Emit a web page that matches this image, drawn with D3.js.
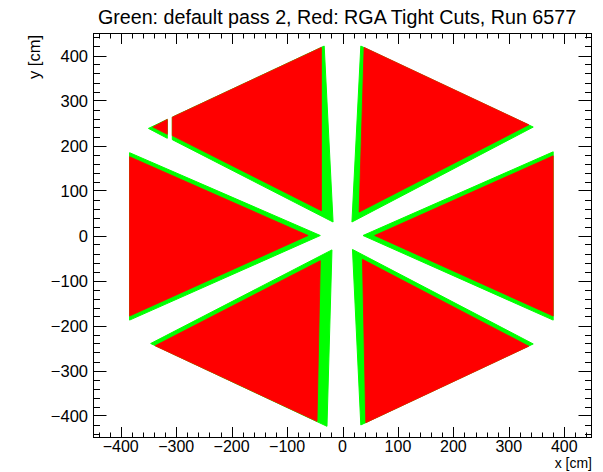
<!DOCTYPE html>
<html><head><meta charset="utf-8">
<script src="https://cdn.jsdelivr.net/npm/d3@7"></script>
<style>
body{margin:0;background:#fff}
svg{display:block}
text{font-family:"Liberation Sans",Arial,Helvetica,sans-serif;fill:#000}
</style>
</head><body>
<svg id="c" width="603" height="472"></svg>
<script>
// ---- text ----
const titleText = "Green: default pass 2, Red: RGA Tight Cuts, Run 6577";
const xAxisTitle = "x [cm]";
const yAxisTitle = "y [cm]";

// ---- axes ----
const xDomain = [-450, 450];
const yDomain = [-450, 450];
const xMajorTicks = [-400, -300, -200, -100, 0, 100, 200, 300, 400];
const yMajorTicks = [-400, -300, -200, -100, 0, 100, 200, 300, 400];
const minorTicks = [-440,-420,-380,-360,-340,-320,-280,-260,-240,-220,-180,-160,-140,-120,-80,-60,-40,-20,
                    20,40,60,80,120,140,160,180,220,240,260,280,320,340,360,380,420,440];

// ---- data: hit regions per sector, [x, y] in cm ----
// green = default pass 2
const greenSector1 = [[37,0],[380,186],[380,-188]];
const greenSector2 = [[17,30],[33,421],[344,241]];
const greenSector3a = [[-17,30],[-33,421],[-307,263],[-307,213]];
const greenSector3b = [[-316,258],[-350,238],[-316,216]];
const greenSector4 = [[-40,0],[-384,184],[-384,-188]];
const greenSector5 = [[-19,-32],[-28,-424],[-346,-240]];
const greenSector6 = [[18,-31],[33,-421],[344,-241]];
// red = RGA tight cuts
const redSector1 = [[58,0],[380,177],[380,-179]];
const redSector2 = [[30,52],[39,418],[336,246]];
const redSector3a = [[-38,55],[-38,418],[-307,263],[-307,222]];
const redSector3b = [[-316,258],[-342,241],[-316,225]];
const redSector4 = [[-62,0],[-384,175],[-384,-179]];
const redSector5 = [[-40,-56],[-46,-413],[-338,-245]];
const redSector6 = [[36,-53],[42,-416],[336,-246]];

const greenRegions = [greenSector1, greenSector2, greenSector3a, greenSector3b, greenSector4, greenSector5, greenSector6];
const redRegions = [redSector1, redSector2, redSector3a, redSector3b, redSector4, redSector5, redSector6];

// ---- layout ----
const L = 93, R = 592, T = 33, B = 438;
const svg = d3.select("#c");
const x = d3.scaleLinear().domain(xDomain).range([L, R]);
const y = d3.scaleLinear().domain(yDomain).range([B, T]);

svg.append("defs").append("clipPath").attr("id","frame")
  .append("rect").attr("x",L).attr("y",T).attr("width",R-L).attr("height",B-T);

const poly = d3.line().x(d => x(d[0])).y(d => y(d[1])).curve(d3.curveLinearClosed);
const plot = svg.append("g").attr("clip-path","url(#frame)");
plot.selectAll("path.g").data(greenRegions).join("path").attr("class","g")
  .attr("d", poly).attr("fill","#00ff00").attr("stroke","#00ff00").attr("stroke-width",1);
plot.selectAll("path.r").data(redRegions).join("path").attr("class","r")
  .attr("d", poly).attr("fill","#ff0000").attr("stroke","#ff0000").attr("stroke-width",0.8);

// frame
svg.append("rect").attr("x",L+0.5).attr("y",T+0.5).attr("width",R-L-1).attr("height",B-T-1)
  .attr("fill","none").attr("stroke","#000").attr("stroke-width",1);

const xMaj = 11, xMin = 5.5, yMaj = 13.5, yMin = 7;
const tk = svg.append("g").attr("stroke","#000").attr("stroke-width",1);
xMajorTicks.forEach(v => {
  const px = Math.round(x(v)) + 0.5;
  tk.append("line").attr("x1",px).attr("x2",px).attr("y1",B).attr("y2",B-xMaj);
  tk.append("line").attr("x1",px).attr("x2",px).attr("y1",T).attr("y2",T+xMaj);
});
minorTicks.forEach(v => {
  const px = Math.round(x(v)) + 0.5;
  tk.append("line").attr("x1",px).attr("x2",px).attr("y1",B).attr("y2",B-xMin);
  tk.append("line").attr("x1",px).attr("x2",px).attr("y1",T).attr("y2",T+xMin);
});
yMajorTicks.forEach(v => {
  const py = Math.round(y(v)) + 0.5;
  tk.append("line").attr("y1",py).attr("y2",py).attr("x1",L).attr("x2",L+yMaj);
  tk.append("line").attr("y1",py).attr("y2",py).attr("x1",R).attr("x2",R-yMaj);
});
minorTicks.forEach(v => {
  const py = Math.round(y(v)) + 0.5;
  tk.append("line").attr("y1",py).attr("y2",py).attr("x1",L).attr("x2",L+yMin);
  tk.append("line").attr("y1",py).attr("y2",py).attr("x1",R).attr("x2",R-yMin);
});

const fmt = d3.format("d");
svg.append("g").selectAll("text").data(xMajorTicks).join("text")
  .attr("x", d => x(d)).attr("y", 452.3).attr("text-anchor","middle")
  .attr("font-size",16).text(d => fmt(d));
svg.append("g").selectAll("text").data(yMajorTicks).join("text")
  .attr("x", 88).attr("y", d => y(d) + 6).attr("text-anchor","end")
  .attr("font-size",16.5).text(d => fmt(d));

svg.append("text").attr("x", R).attr("y", 468.3).attr("text-anchor","end")
  .attr("font-size",14).text(xAxisTitle);
svg.append("text").attr("transform","translate(40,"+(T+2)+") rotate(-90)")
  .attr("text-anchor","end").attr("font-size",16.5).text(yAxisTitle);

svg.append("text").attr("x", 337).attr("y", 24).attr("text-anchor","middle")
  .attr("font-size",19.7).text(titleText);
</script>
</body></html>
